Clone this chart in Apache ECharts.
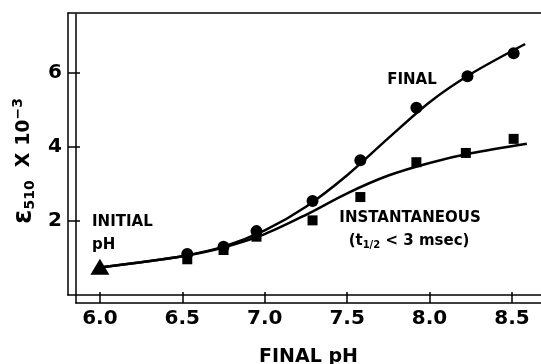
<!DOCTYPE html>
<html>
<head>
<meta charset="utf-8">
<script src="https://cdn.jsdelivr.net/npm/echarts@6/dist/echarts.min.js"></script>
<style>
  html, body { margin: 0; padding: 0; background: #fff; }
  #chart { width: 541px; height: 364px; }
</style>
</head>
<body>
<div id="chart"></div>
<script>
// measured points
const finalPH = [6.53, 6.75, 6.95, 7.29, 7.58, 7.92, 8.23, 8.51];
const finalEps = [1.12, 1.32, 1.74, 2.55, 3.65, 5.07, 5.92, 6.54];
const instPH = [6.53, 6.75, 6.95, 7.29, 7.58, 7.92, 8.22, 8.51];
const instEps = [0.98, 1.23, 1.59, 2.03, 2.66, 3.60, 3.85, 4.23];
const initialPH = [6.0];
const initialEps = [0.78];

// fitted curves
const finalCurvePH = [6.0, 6.25, 6.5, 6.75, 7.0, 7.25, 7.5, 7.75, 8.0, 8.25, 8.58];
const finalCurveEps = [0.76, 0.9, 1.06, 1.32, 1.76, 2.40, 3.25, 4.25, 5.22, 5.98, 6.79];
const instCurvePH = [6.0, 6.25, 6.5, 6.75, 7.0, 7.25, 7.5, 7.75, 8.0, 8.25, 8.59];
const instCurveEps = [0.76, 0.9, 1.06, 1.30, 1.66, 2.18, 2.76, 3.24, 3.58, 3.84, 4.10];

const xTicks = [6.0, 6.5, 7.0, 7.5, 8.0, 8.5];
const yTicks = [2, 4, 6];

const FONT = 'DejaVu Sans';

function pairs(xs, ys) {
    return xs.map((x, i) => [x, ys[i]]);
}

const myChart = echarts.init(document.getElementById('chart'));

const frameLine = { show: true, onZero: false, lineStyle: { color: '#000', width: 1.5 } };

let option = {
    animation: false,
    textStyle: { fontFamily: FONT, color: '#000' },
    grid: [{
        // outer frame (left, top, bottom lines), runs past the right edge
        left: 68, top: 13, bottom: 69, right: -30,
        outerBoundsMode: 'none',
        containLabel: false
    }, {
        // offset axes
        left: 76, top: 14, bottom: 61, right: 0,
        outerBoundsMode: 'none',
        containLabel: false
    }],
    xAxis: [{
        gridIndex: 0,
        type: 'value',
        position: 'bottom',
        min: 0, max: 1,
        axisLine: frameLine,
        axisTick: { show: false },
        axisLabel: { show: false },
        splitLine: { show: false }
    }, {
        gridIndex: 0,
        type: 'value',
        position: 'top',
        min: 0, max: 1,
        axisLine: frameLine,
        axisTick: { show: false },
        axisLabel: { show: false },
        splitLine: { show: false }
    }, {
        gridIndex: 1,
        type: 'value',
        min: 5.855, max: 8.676,
        axisLine: frameLine,
        axisTick: { show: true, inside: true, length: 11, customValues: xTicks, lineStyle: { color: '#000', width: 1.5 } },
        axisLabel: {
            customValues: xTicks,
            formatter: v => v.toFixed(1),
            fontSize: 20, fontWeight: 'bold', color: '#000', margin: 6, fontFamily: FONT
        },
        splitLine: { show: false },
        name: 'FINAL pH',
        nameLocation: 'middle',
        nameGap: 45,
        nameTextStyle: { fontSize: 19, fontWeight: 'bold', color: '#000', fontFamily: FONT }
    }],
    yAxis: [{
        gridIndex: 0,
        type: 'value',
        min: 0, max: 7.6,
        axisLine: frameLine,
        axisTick: { show: true, inside: true, length: 12, customValues: yTicks, lineStyle: { color: '#000', width: 1.5 } },
        axisLabel: { customValues: yTicks, fontSize: 20, fontWeight: 'bold', color: '#000', margin: 6, fontFamily: FONT },
        splitLine: { show: false },
        name: '{e|ε}{sub|510}{n|  X 10}{sup|−3}',
        nameLocation: 'middle',
        nameRotate: 90,
        nameGap: 24,
        nameTextStyle: {
            color: '#000',
            padding: [0, 14, 0, 0],
            rich: {
                e: { fontSize: 26, fontFamily: FONT, fontWeight: 'bold', verticalAlign: 'middle' },
                sub: { fontSize: 14, fontFamily: FONT, fontWeight: 'bold', verticalAlign: 'bottom', padding: [10, 0, 0, 0] },
                n: { fontSize: 19, fontFamily: FONT, fontWeight: 'bold' },
                sup: { fontSize: 14, fontFamily: FONT, fontWeight: 'bold', verticalAlign: 'top', padding: [0, 0, 10, 0] }
            }
        }
    }, {
        gridIndex: 1,
        type: 'value',
        min: -0.2, max: 7.6,
        axisLine: frameLine,
        axisTick: { show: false },
        axisLabel: { show: false },
        splitLine: { show: false }
    }],
    series: [{ // final curve
        type: 'line',
        xAxisIndex: 2, yAxisIndex: 1,
        data: pairs(finalCurvePH, finalCurveEps),
        smooth: 0.3,
        showSymbol: false,
        silent: true,
        lineStyle: { color: '#000', width: 2.5 }
    }, { // instantaneous curve
        type: 'line',
        xAxisIndex: 2, yAxisIndex: 1,
        data: pairs(instCurvePH, instCurveEps),
        smooth: 0.3,
        showSymbol: false,
        silent: true,
        lineStyle: { color: '#000', width: 2.5 }
    }, { // instantaneous points
        type: 'scatter',
        xAxisIndex: 2, yAxisIndex: 1,
        data: pairs(instPH, instEps),
        symbol: 'rect',
        symbolSize: 10,
        itemStyle: { color: '#000', opacity: 1 }
    }, { // final points
        type: 'scatter',
        xAxisIndex: 2, yAxisIndex: 1,
        data: pairs(finalPH, finalEps),
        symbol: 'circle',
        symbolSize: 12,
        itemStyle: { color: '#000', opacity: 1 }
    }, { // initial pH
        type: 'scatter',
        xAxisIndex: 2, yAxisIndex: 1,
        data: pairs(initialPH, initialEps),
        symbol: 'triangle',
        symbolSize: [19, 16],
        itemStyle: { color: '#000', opacity: 1 }
    }],
    graphic: [{
        type: 'text', x: 412, y: 80,
        style: { text: 'FINAL', font: 'bold 15px "DejaVu Sans"', fill: '#000', align: 'center', verticalAlign: 'middle' }
    }, {
        type: 'text', x: 410, y: 218,
        style: { text: 'INSTANTANEOUS', font: 'bold 15px "DejaVu Sans"', fill: '#000', align: 'center', verticalAlign: 'middle' }
    }, {
        type: 'text', x: 409, y: 241,
        style: {
            text: '(t{s|1/2} < 3 msec)',
            font: 'bold 15px "DejaVu Sans"', fill: '#000', align: 'center', verticalAlign: 'middle',
            rich: { s: { fontSize: 10, fontFamily: FONT, fontWeight: 'bold', verticalAlign: 'bottom', padding: [8, 0, 0, 0] } }
        }
    }, {
        type: 'text', x: 92, y: 222,
        style: { text: 'INITIAL', font: 'bold 15px "DejaVu Sans"', fill: '#000', align: 'left', verticalAlign: 'middle' }
    }, {
        type: 'text', x: 92, y: 245,
        style: { text: 'pH', font: 'bold 15px "DejaVu Sans"', fill: '#000', align: 'left', verticalAlign: 'middle' }
    }]
};
myChart.setOption(option);
</script>
</body>
</html>
